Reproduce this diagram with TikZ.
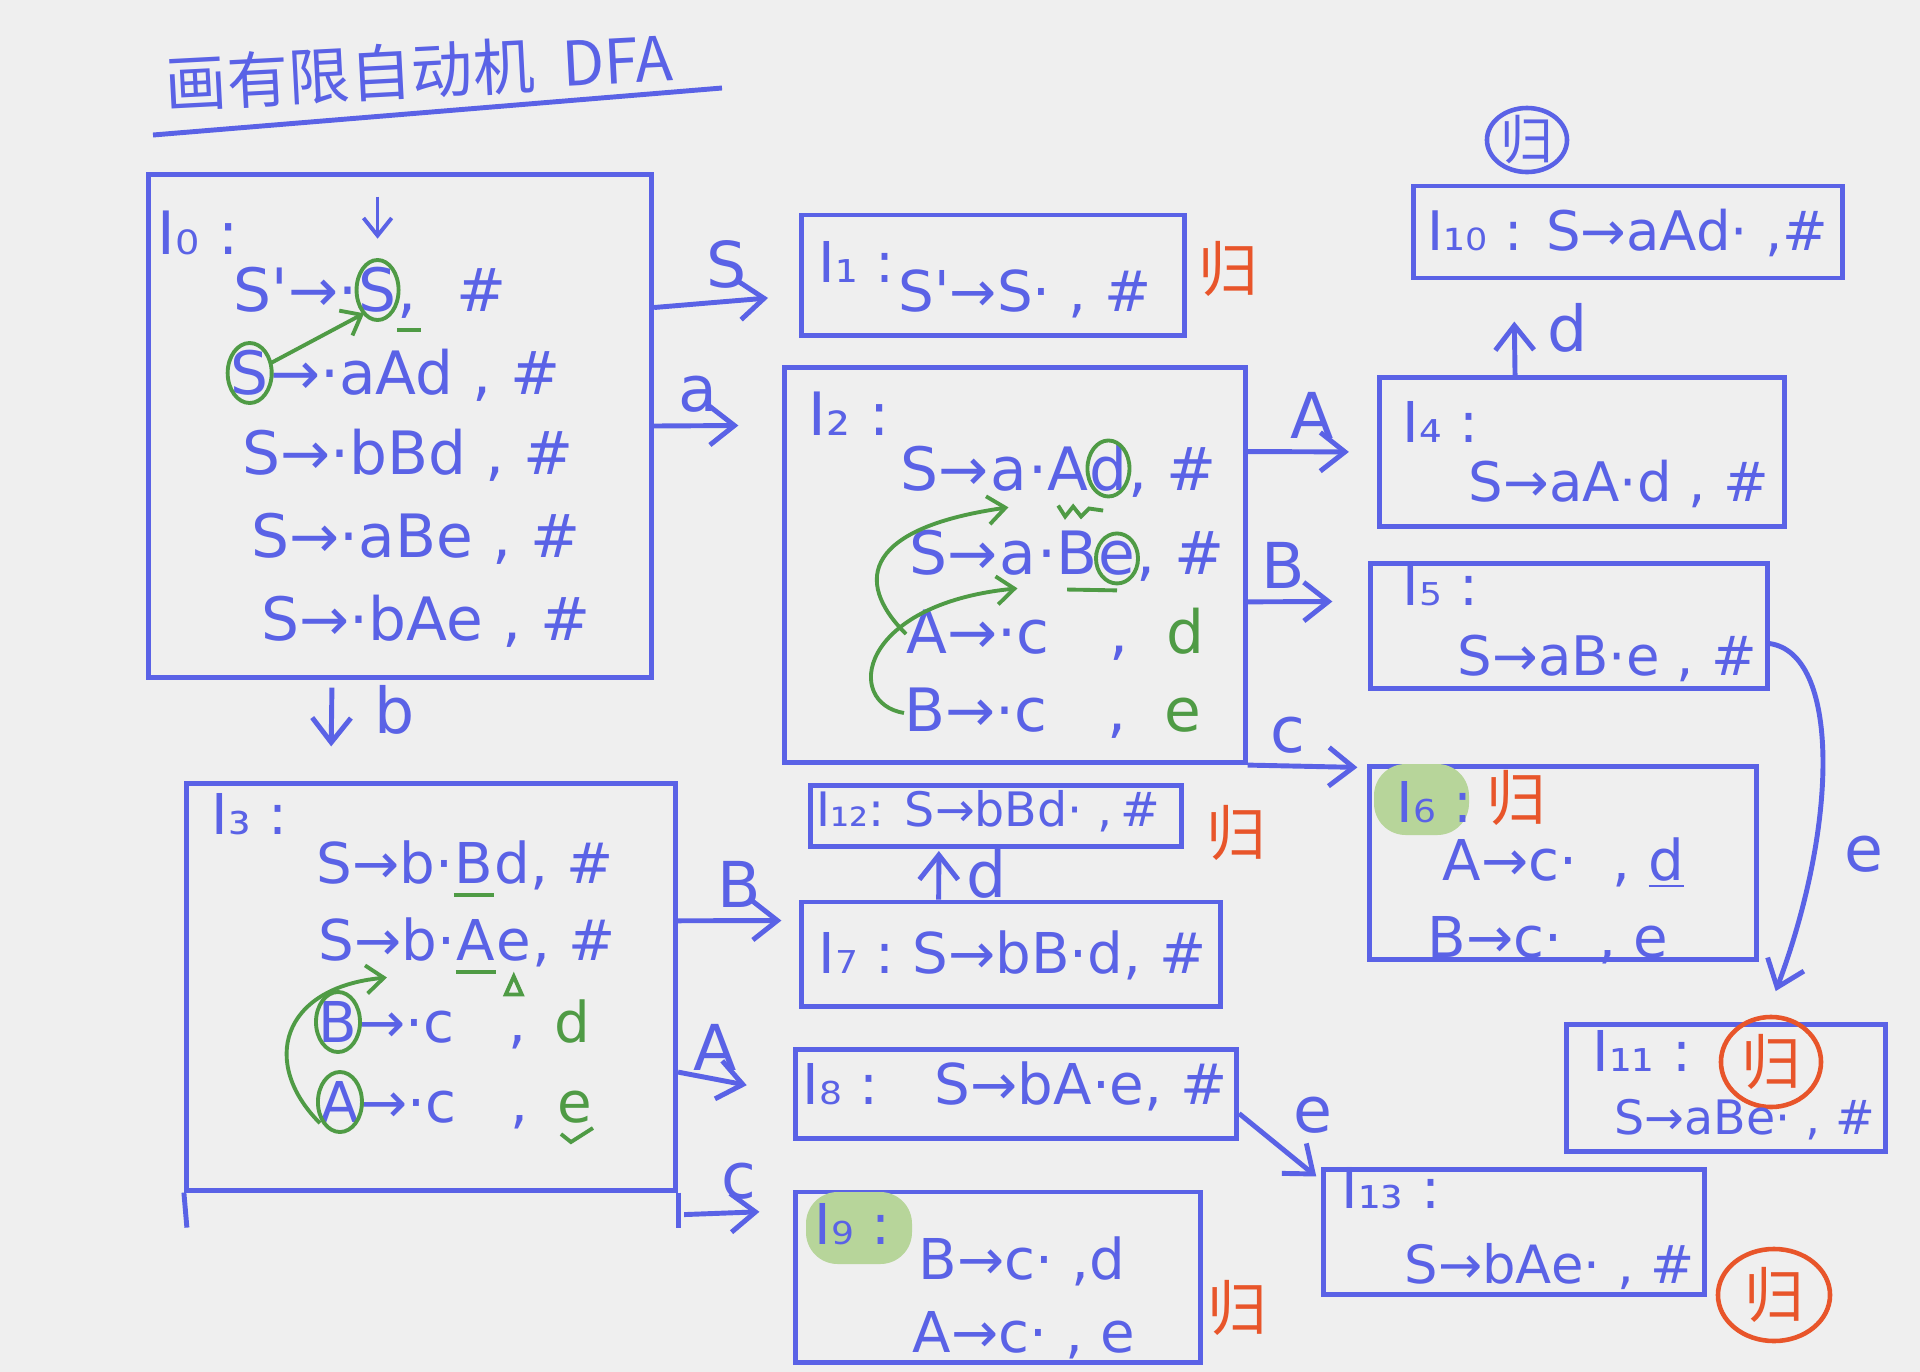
\documentclass[tikz,border=0pt]{standalone}
\usepackage{fontspec}
\usepackage{tikz}
\usetikzlibrary{positioning, arrows.meta, shapes.geometric}
\newfontfamily\cjk{Noto Sans CJK SC}
\newfontfamily\hand{DejaVu Sans}
\definecolor{penblue}{HTML}{5A62E6}
\definecolor{penred}{HTML}{E8552A}
\definecolor{pengreen}{HTML}{4F9B45}
\definecolor{markgreen}{HTML}{B7D59A}
\definecolor{paper}{HTML}{EFEFEF}

\begin{document}
\begin{tikzpicture}[
    x=0.01cm, y=-0.01cm,
    >={Straight Barb[length=7pt, width=11pt]},
    state/.style={rectangle, draw=penblue, line width=1.4pt, inner sep=0pt},
    item/.style={anchor=west, inner sep=0pt, text=penblue,
                 font=\hand\fontsize{16}{19}\selectfont},
    sz/.style={font=\hand\fontsize{#1}{19}\selectfont},
    part/.style={item, anchor=base west},
    sym/.style={text=penblue, inner sep=3pt, font=\hand\fontsize{18}{21}\selectfont},
    gui/.style={text=penred, inner sep=0pt, font=\cjk\fontsize{17}{20}\selectfont},
    line/.style={->, penblue, line width=1.4pt},
    hint/.style={pengreen, line width=1.1pt},
    tip/.style={-{Straight Barb[length=5pt, width=8pt]}}
  ]
  \useasboundingbox (0,0) rectangle (1920,1372);
  \fill[paper] (0,0) rectangle (1920,1372);

  % Title
  \node[anchor=west, inner sep=0pt, text=penblue, rotate=3,
        font=\cjk\fontsize{17.5}{20}\selectfont] (title) at (165,84) {画有限自动机\ \ DFA};
  \draw[penblue, line width=1.4pt] (153,135) -- (722,88);

  % States
  \node[state, minimum width=5.03cm, minimum height=5.02cm] (I0)  at (400,426)    {};
  \node[state, minimum width=3.83cm, minimum height=1.20cm] (I1)  at (993,275)    {};
  \node[state, minimum width=4.60cm, minimum height=3.95cm] (I2)  at (1015,565)   {};
  \node[state, minimum width=4.89cm, minimum height=4.06cm] (I3)  at (431,987)    {};
  \node[state, minimum width=4.05cm, minimum height=1.49cm] (I4)  at (1582,452)   {};
  \node[state, minimum width=3.96cm, minimum height=1.25cm] (I5)  at (1569,626)   {};
  \node[state, minimum width=3.86cm, minimum height=1.93cm] (I6)  at (1563,863)   {};
  \node[state, minimum width=4.18cm, minimum height=1.04cm] (I7)  at (1011,954)   {};
  \node[state, minimum width=4.41cm, minimum height=0.89cm] (I8)  at (1016,1094)  {};
  \node[state, minimum width=4.04cm, minimum height=1.70cm] (I9)  at (998,1277)   {};
  \node[state, minimum width=4.29cm, minimum height=0.92cm] (I10) at (1628,232)   {};
  \node[state, minimum width=3.19cm, minimum height=1.27cm] (I11) at (1726,1088)  {};
  \node[state, minimum width=3.71cm, minimum height=0.61cm] (I12) at (996,816)    {};
  \node[state, minimum width=3.81cm, minimum height=1.25cm] (I13) at (1514,1232)  {};
  \draw[penblue, line width=1.4pt] (I3.south west) -- ++(3,35);
  \draw[penblue, line width=1.4pt] (I3.south east) -- ++(0,35);

  % Highlights
  \fill[markgreen, rounded corners=9pt] (1374,764) rectangle (1469,835);
  \fill[markgreen, rounded corners=9pt] (806,1192) rectangle (912,1264);

  % I0
  \node[item, sz=17] (i0)   at (157,233) {I₀ :};
  \node[item, sz=17] (i0a)  at (233,290) {S'→·};
  \node[part, sz=17] (i0aS) at (i0a.base east) {S};
  \node[part, sz=17] (i0ac) at (i0aS.base east) {,};
  \node[part, sz=17] (i0ah) at (i0ac.base east) {\ \ \#};
  \node[item, sz=17] (i0bS) at (230,373) {S};
  \node[part, sz=17] (i0b)  at (i0bS.base east) {→·aAd , \#};
  \node[item, sz=17] (i0c)  at (242,455) {S→·bBd , \#};
  \node[item, sz=17] (i0d)  at (251,539) {S→·aBe , \#};
  \node[item, sz=17] (i0e)  at (261,621) {S→·bAe , \#};
  \draw[penblue, line width=1.1pt, tip] ([yshift=0.7cm]i0aS.north) -- ([yshift=0.28cm]i0aS.north);
  \draw[hint] (i0aS.center) ellipse [x radius=0.21cm, y radius=0.3cm];
  \draw[hint] (i0bS.center) ellipse [x radius=0.22cm, y radius=0.3cm];
  \draw[hint, tip] (i0bS.25) -- (i0aS.-120);
  \draw[hint] ([yshift=-3pt]i0ac.south west) -- ++(24,0);

  % I1
  \node[item] (i1)  at (818,262) {I₁ :};
  \node[item] (i1a) at (898,294) {S'→S· , \#};
  \node[gui] (g1) at (1228,269) {归};

  % I2
  \node[item, sz=17] (i2)   at (808,414) {I₂ :};
  \node[item, sz=17] (i2a)  at (900,469) {S→};
  \node[part, sz=17] (i2aa) at (i2a.base east) {a};
  \node[part, sz=17] (i2ab) at (i2aa.base east) {·A};
  \node[part, sz=17] (i2ad) at (i2ab.base east) {d};
  \node[part, sz=17] (i2ae) at (i2ad.base east) {, \#};
  \node[item, sz=17] (i2b)  at (909,553) {S→};
  \node[part, sz=17] (i2ba) at (i2b.base east) {a};
  \node[part, sz=17] (i2bb) at (i2ba.base east) {·B};
  \node[part, sz=17] (i2be) at (i2bb.base east) {e};
  \node[part, sz=17] (i2bf) at (i2be.base east) {, \#};
  \node[item, sz=17] (i2c)  at (906,634) {A→·c\quad,\ \ \textcolor{pengreen}{d}};
  \node[item, sz=17] (i2d)  at (904,713) {B→·c\quad,\ \ \textcolor{pengreen}{e}};
  \draw[hint] (i2ad.center) ellipse [x radius=0.21cm, y radius=0.28cm];
  \draw[hint] (i2be.center) ellipse [x radius=0.21cm, y radius=0.25cm];
  \draw[hint] ([yshift=-4pt]i2ab.south) -- ++(7,11) -- ++(8,-10) -- ++(8,10) -- ++(8,-8) -- ++(14,2);
  \draw[hint] ([yshift=-4pt]i2bb.south) -- ([yshift=-4pt]i2be.south);
  \draw[hint, tip] (i2c.west) .. controls +(-55,-55) and +(-140,20) .. ([yshift=-0.15cm]i2aa.south);
  \draw[hint, tip] (i2d.west) .. controls +(-60,-10) and +(-160,16) .. ([yshift=-0.12cm]i2ba.south);

  % I3
  \node[item] (i3)   at (211,814)  {I₃ :};
  \node[item] (i3a)  at (316,863)  {S→b·};
  \node[part] (i3aB) at (i3a.base east) {B};
  \node[part] (i3ad) at (i3aB.base east) {d, \#};
  \node[item] (i3b)  at (318,940)  {S→b·};
  \node[part] (i3bA) at (i3b.base east) {A};
  \node[part] (i3be) at (i3bA.base east) {e};
  \node[part] (i3bf) at (i3be.base east) {, \#};
  \node[item] (i3cB) at (318,1022) {B};
  \node[part] (i3c)  at (i3cB.base east) {→·c\ \ \ ,\kern0.5em\textcolor{pengreen}{d}};
  \node[item] (i3dA) at (320,1102) {A};
  \node[part] (i3d)  at (i3dA.base east) {→·c\ \ \ ,\kern0.5em};
  \node[part, text=pengreen] (i3de) at (i3d.base east) {e};
  \draw[hint] ([yshift=-3pt]i3aB.south west) -- ([yshift=-3pt]i3aB.south east);
  \draw[hint] ([yshift=-3pt]i3bA.south west) -- ([yshift=-3pt]i3bA.south east);
  \draw[hint] ([shift={(-8,32)}]i3be.south) -- ++(8,-18) -- ++(8,18) -- cycle;
  \draw[hint] (i3cB.center) ellipse [x radius=0.22cm, y radius=0.3cm];
  \draw[hint] (i3dA.center) ellipse [x radius=0.22cm, y radius=0.3cm];
  \draw[hint, tip] (i3dA.south west) .. controls +(-60,-60) and +(-106,10) .. ([yshift=-0.15cm]i3b.south);
  \draw[hint] ([shift={(-14,10)}]i3de.south) -- ++(10,8) -- ++(22,-14);

  % I4, I5, I10
  \node[item, sz=15.5] (i10) at (1427,233) {I₁₀ : S→aAd· ,\#};
  \node[gui, text=penblue, font=\cjk\fontsize{15}{18}\selectfont] (g10) at (1527,140) {归};
  \draw[penblue, line width=1.3pt] (g10) ellipse [x radius=0.4cm, y radius=0.32cm];
  \node[item] (i4)  at (1402,422) {I₄ :};
  \node[item, sz=15.5] (i4a) at (1468,484) {S→aA·d , \#};
  \node[item] (i5)  at (1402,585) {I₅ :};
  \node[item, sz=15.5] (i5a) at (1457,658) {S→aB·e , \#};

  % I6
  \node[item] (i6)  at (1396,802) {I₆ :};
  \node[gui] (g6) at (1516,798) {归};
  \node[item] (i6a) at (1442,863) {A→c·\ \ , \underline{d}};
  \node[item] (i6b) at (1427,940) {B→c·\ \ , e};

  % I7, I8, I9, I12
  \node[item, sz=13.5] (i12) at (816,811) {I₁₂: S→bBd· ,\,\#};
  \node[gui] (g12) at (1236,833) {归};
  \node[item] (i7)  at (818,955)  {I₇ :\ S→bB·d, \#};
  \node[item] (i8)  at (802,1086) {I₈ :\quad S→bA·e, \#};
  \node[item] (i9)  at (814,1224) {I₉ :};
  \node[item] (i9a) at (918,1261) {B→c· ,d};
  \node[item] (i9b) at (912,1335) {A→c· , e};
  \node[gui] (g9) at (1237,1308) {归};

  % I11, I13
  \node[item] (i11)  at (1592,1051) {I₁₁ :};
  \node[gui] (g11) at (1771,1062) {归};
  \draw[penred, line width=1.3pt] (g11) ellipse [x radius=0.5cm, y radius=0.45cm];
  \node[item, sz=13.5] (i11a) at (1614,1120) {S→aBe· , \#};
  \node[item] (i13)  at (1341,1188) {I₁₃ :};
  \node[item, sz=15] (i13a) at (1404,1267) {S→bAe· , \#};
  \node[gui] (g13) at (1774,1295) {归};
  \draw[penred, line width=1.3pt] (g13) ellipse [x radius=0.56cm, y radius=0.46cm];

  % Transitions
  \draw[line, shorten >=0.31cm] (I0.25) -- (I1.186) node[sym, midway, above] {S};
  \draw[line, shorten >=0.44cm] (I0.east) -- (I2.149)
    node[sym, midway, above, xshift=-0.2cm] {a};
  \draw[line, shorten <=0.08cm, shorten >=0.35cm] (I0.-105) -- (I3.116)
    node[sym, pos=0.3, right=0.3cm] {b};
  \draw[line, shorten >=0.28cm] (I2.26) -- (I4.west) node[sym, midway, above] {A};
  \draw[line, shorten >=0.36cm] (I2.-9) -- (I5.173)
    node[sym, midway, above, xshift=-0.25cm] {B};
  \draw[line, shorten >=0.1cm] (I2.south east) -- (I6.154)
    node[sym, midway, above, xshift=-0.2cm] {c};
  \draw[line, shorten >=0.41cm] (I4.131) -- (I10.-157) node[sym, midway, right=0.2cm] {d};
  \draw[line, shorten >=0.33cm] (I5.-5) .. controls +(70,10) and +(75,-200) .. (I11.60)
    node[sym, pos=0.7, right=0.2cm] {e};
  \draw[line, shorten >=0.18cm] (I3.15) -- (I7.171) node[sym, midway, above] {B};
  \draw[line, shorten >=0.47cm] (I3.-19) -- (I8.west)
    node[sym, midway, above, xshift=-0.2cm] {A};
  \draw[line, shorten >=0.34cm] ([shift={(6,22)}]I3.south east) -- (I9.162)
    node[sym, midway, above] {c};
  \draw[line, shorten >=0.02cm] (I7.143) -- (I12.-150) node[sym, midway, right=0.15cm] {d};
  \draw[line, shorten >=0.06cm] (I8.-5) -- (I13.165) node[sym, pos=0.5, above right] {e};
\end{tikzpicture}
\end{document}
